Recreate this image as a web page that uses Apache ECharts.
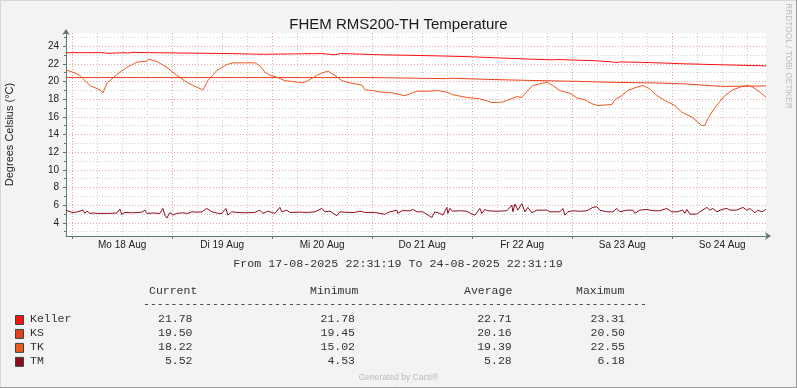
<!DOCTYPE html>
<html><head><meta charset="utf-8">
<script src="https://cdn.jsdelivr.net/npm/echarts@6/dist/echarts.min.js"></script>
<style>html,body{margin:0;padding:0;background:#f3f3f3}#c{width:797px;height:388px}</style>
</head><body><div id="c"></div>
<script>
// ---- data (x = hours since 18-08-2025 00:00) ----
const xStart = -1.478;   // 17-08-2025 22:31:19
const xEnd = 166.522;    // 24-08-2025 22:31:19
const dayLabels = ['Mo 18 Aug','Di 19 Aug','Mi 20 Aug','Do 21 Aug','Fr 22 Aug','Sa 23 Aug','So 24 Aug'];
const dayLabelHours = [12,36,60,84,108,132,156];
const yTickLabels = [4,6,8,10,12,14,16,18,20,22,24];
const seriesNames = ['Keller','KS','TK','TM'];
const seriesColors = ['#FF1010','#E8401C','#EE5A1E','#8F0B1E'];
const statCurrent = ['21.78','19.50','18.22','5.52'];
const statMinimum = ['21.78','19.45','15.02','4.53'];
const statAverage = ['22.71','20.16','19.39','5.28'];
const statMaximum = ['23.31','20.50','22.55','6.18'];

const keller = [[-1.48,23.27],[7.4,23.2],[8.6,23.27],[12.7,23.22],[13.4,23.31],[14.6,23.27],[18.7,23.17],[37.9,23.09],[45.8,23.17],[59.9,23.03],[63.0,23.17],[64.5,23.03],[74.1,22.93],[85.4,22.83],[94.5,22.69],[101.7,22.57],[108.2,22.46],[115.4,22.5],[116.3,22.35],[125.9,22.23],[129.5,22.15],[130.7,22.23],[131.4,22.15],[138.6,22.01],[147.0,21.89],[156.6,21.78],[166.52,21.78]];
const ks = [[-1.48,20.45],[71.7,20.33],[89.9,20.38],[91.1,20.24],[100.0,20.13],[109.6,20.02],[121.6,19.92],[128.6,19.83],[141.0,19.72],[147.5,19.58],[151.8,19.45],[155.9,19.5],[166.52,19.5]];
const tk = [[-1.48,21.3],[-0.07,21.1],[1.85,20.7],[4.25,19.55],[6.65,19.06],[7.37,18.7],[8.33,19.8],[10.73,20.8],[13.13,21.6],[15.53,22.2],[17.93,22.3],[18.29,22.55],[20.33,22.27],[22.73,21.6],[25.13,20.7],[27.53,19.9],[29.93,19.36],[31.37,19.06],[32.57,20.1],[34.73,21.25],[37.13,21.93],[38.57,22.12],[43.85,22.12],[45.05,21.8],[46.25,21.06],[47.45,20.7],[49.13,20.5],[51.05,20.1],[52.97,20.0],[55.37,19.85],[56.57,20.1],[58.73,20.7],[60.17,21.0],[61.37,21.17],[63.05,20.7],[64.73,20.1],[66.65,19.85],[69.53,19.6],[70.25,19.06],[71.93,18.98],[74.33,18.8],[76.73,18.72],[79.85,18.4],[81.05,18.6],[82.73,18.9],[85.13,18.9],[87.77,18.98],[89.93,18.8],[91.37,18.5],[94.73,18.2],[97.85,18.04],[99.77,17.77],[100.73,17.62],[103.13,17.66],[104.33,17.85],[106.73,18.3],[107.93,18.2],[109.13,18.9],[110.57,19.55],[112.25,19.74],[113.93,19.92],[115.37,19.55],[117.05,18.98],[119.45,18.68],[121.13,18.15],[123.05,17.93],[124.73,17.48],[126.17,17.28],[129.53,17.4],[130.25,17.93],[131.93,18.42],[133.37,18.98],[135.05,19.29],[136.97,19.55],[138.65,19.17],[140.33,18.42],[142.25,17.85],[144.65,17.28],[146.33,16.53],[148.73,15.96],[150.17,15.4],[151.13,15.02],[151.85,15.02],[152.57,15.78],[153.77,16.72],[155.45,17.74],[156.65,18.42],[158.57,19.06],[160.73,19.44],[162.17,19.55],[163.37,19.36],[165.05,18.8],[166.52,18.22]];
const tm = [[-1.48,5.43],[-0.07,5.17],[1.0,5.2],[2.57,5.43],[3.05,5.06],[3.53,5.32],[4.25,5.06],[5.2,5.1],[6.17,5.06],[6.65,5.13],[8.5,5.06],[10.73,5.1],[11.45,5.55],[11.93,4.95],[12.65,5.17],[14.5,5.13],[16.73,5.2],[17.45,5.43],[17.93,5.06],[19.5,5.1],[21.05,5.06],[21.77,5.62],[22.25,4.87],[22.73,4.53],[23.45,5.17],[24.17,4.87],[25.13,5.06],[26.5,5.13],[27.77,5.06],[28.73,5.24],[30.0,5.2],[31.13,5.24],[32.33,5.62],[33.53,5.24],[34.25,5.17],[34.97,5.06],[35.93,5.06],[36.89,5.62],[37.37,4.87],[38.33,5.24],[39.53,5.17],[41.5,5.13],[43.85,5.17],[45.05,5.43],[45.77,5.06],[46.97,5.32],[48.65,5.06],[49.85,5.74],[50.33,5.24],[51.53,5.43],[52.25,5.17],[54.5,5.2],[56.57,5.17],[58.25,5.24],[59.93,5.62],[60.65,5.24],[61.85,5.32],[63.53,4.8],[64.25,5.24],[66.0,5.17],[67.85,5.17],[69.05,5.32],[70.25,5.17],[72.65,5.17],[73.85,5.06],[75.05,4.95],[75.77,5.17],[77.93,5.43],[78.17,5.06],[79.13,5.36],[81.05,5.36],[81.77,5.51],[82.73,5.24],[84.17,5.24],[86.33,4.6],[87.05,5.24],[88.25,5.06],[88.97,4.87],[89.93,5.74],[90.17,5.06],[90.65,5.62],[91.37,5.3],[93.0,5.36],[94.73,5.3],[95.93,4.98],[96.65,4.87],[97.85,5.62],[98.33,5.06],[99.05,5.51],[99.77,5.36],[102.0,5.3],[104.33,5.36],[105.53,6.0],[105.77,5.24],[106.25,6.11],[106.97,5.43],[107.93,6.18],[108.65,5.24],[109.37,5.74],[110.33,5.13],[111.53,5.43],[113.93,5.43],[114.65,5.24],[117.05,5.24],[117.77,5.62],[118.25,4.87],[118.97,5.24],[120.17,5.36],[122.0,5.3],[123.53,5.36],[124.97,5.74],[125.93,5.81],[126.65,5.43],[128.33,5.24],[129.77,5.24],[130.73,5.62],[131.45,5.24],[133.13,5.43],[134.57,5.43],[135.05,5.06],[136.25,5.43],[137.93,5.51],[139.37,5.36],[141.05,5.36],[142.73,5.62],[143.93,5.24],[145.13,5.24],[146.57,5.43],[147.05,5.06],[147.53,5.51],[148.25,4.98],[149.93,4.98],[150.65,5.24],[152.33,5.74],[153.05,5.43],[153.77,5.62],[154.73,5.24],[155.93,5.51],[157.13,5.62],[157.85,5.43],[159.53,5.43],[160.97,5.74],[161.93,5.43],[162.65,5.62],[163.85,5.13],[164.57,5.43],[165.53,5.24],[166.52,5.52]];
const seriesData = [keller, ks, tk, tm];

// ---- grid helper values ----
const minorX = [], majorX = [];
for (let h = 0; h <= 166; h += 6) { (h % 24 === 0 ? majorX : minorX).push(h); }
const minorY = [];
for (let v = 3; v <= 25; v += 2) minorY.push(v);

const sans = 'Liberation Sans';
const mono = 'Liberation Mono';
const axisColor = '#5E7A70';
const minorGrid = { show: true, lineStyle: { color: '#cfcfcf', type: [1, 2], width: 1 } };
const majorGrid = { show: true, lineStyle: { color: '#eaa2a2', type: [1, 2], width: 1 } };

// ---- legend / text graphics ----
const g = [];
g.push({ type: 'rect', silent: true, shape: { x: 0.5, y: 0.5, width: 796, height: 387 }, style: { fill: 'none', stroke: '#d8d8d8', lineWidth: 1 } });
g.push({ type: 'line', silent: true, shape: { x1: 0, y1: 387.5, x2: 797, y2: 387.5 }, style: { stroke: '#9a9a9a', lineWidth: 1 } });
g.push({ type: 'line', silent: true, shape: { x1: 796.5, y1: 0, x2: 796.5, y2: 388 }, style: { stroke: '#9a9a9a', lineWidth: 1 } });
g.push({ type: 'text', silent: true, x: 788.5, y: 56, rotation: -Math.PI / 2,
  style: { text: 'RRDTOOL / TOBI OETIKER', font: '8.3px ' + sans, fill: '#bdbdbd', align: 'center', verticalAlign: 'middle' } });
g.push({ type: 'text', silent: true, x: 398, y: 264,
  style: { text: 'From 17-08-2025 22:31:19 To 24-08-2025 22:31:19', font: '11.7px ' + mono, fill: '#333', align: 'center', verticalAlign: 'middle' } });
const headers = [['Current', 149], ['Minimum', 310], ['Average', 464], ['Maximum', 576]];
headers.forEach(h => g.push({ type: 'text', silent: true, x: h[1], y: 291,
  style: { text: h[0], font: '11.5px ' + mono, fill: '#333', align: 'left', verticalAlign: 'middle' } }));
g.push({ type: 'text', silent: true, x: 143, y: 303.5,
  style: { text: '-'.repeat(73), font: '11.5px ' + mono, fill: '#333', align: 'left', verticalAlign: 'middle' } });
const colRight = [192.5, 355, 511.7, 625];
const stats = [statCurrent, statMinimum, statAverage, statMaximum];
seriesNames.forEach((name, i) => {
  const cy = 319 + i * 13.95;
  g.push({ type: 'rect', silent: true, shape: { x: 15.5, y: cy - 3.5, width: 8, height: 9 },
    style: { fill: seriesColors[i], stroke: '#2f4a44', lineWidth: 1 } });
  g.push({ type: 'text', silent: true, x: 30, y: cy,
    style: { text: name, font: '11.5px ' + mono, fill: '#333', align: 'left', verticalAlign: 'middle' } });
  stats.forEach((col, j) => g.push({ type: 'text', silent: true, x: colRight[j], y: cy,
    style: { text: col[i], font: '11.5px ' + mono, fill: '#333', align: 'right', verticalAlign: 'middle' } }));
});
g.push({ type: 'text', silent: true, x: 398.5, y: 377.5,
  style: { text: 'Generated by Cacti®', font: '8.5px ' + sans, fill: '#bbbbbb', align: 'center', verticalAlign: 'middle' } });

const chart = echarts.init(document.getElementById('c'), null, { renderer: 'canvas' });
chart.setOption({
  animation: false,
  backgroundColor: '#f3f3f3',
  title: { text: 'FHEM RMS200-TH Temperature', left: 'center', top: 12,
    textStyle: { fontFamily: sans, fontSize: 15, fontWeight: 'normal', color: '#1a1a1a' } },
  grid: { left: 66, top: 33, width: 700, height: 203, show: true, backgroundColor: '#ffffff', borderWidth: 0,
    containLabel: false, outerBoundsMode: 'none' },
  xAxis: [
    { type: 'value', position: 'bottom', min: xStart, max: xEnd,
      axisLine: { show: true, onZero: false, lineStyle: { color: axisColor, width: 1 }, symbol: ['none', 'arrow'], symbolSize: [6, 6], symbolOffset: [0, 5] },
      axisTick: { show: false, customValues: minorX },
      axisLabel: { show: false },
      splitLine: minorGrid },
    { type: 'value', position: 'bottom', min: xStart, max: xEnd,
      axisLine: { show: false, onZero: false },
      axisTick: { show: true, customValues: majorX, length: 3, lineStyle: { color: axisColor } },
      axisLabel: { show: true, customValues: dayLabelHours, margin: 4, fontFamily: sans, fontSize: 10, color: '#222',
        formatter: v => dayLabels[dayLabelHours.indexOf(Math.round(v))] || '' },
      splitLine: majorGrid }
  ],
  yAxis: [
    { type: 'value', position: 'left', min: 2.5, max: 25.5,
      name: 'Degrees Celsius (°C)', nameLocation: 'middle', nameGap: 51,
      nameTextStyle: { fontFamily: sans, fontSize: 11, color: '#222' },
      axisLine: { show: true, onZero: false, lineStyle: { color: axisColor, width: 1 }, symbol: ['none', 'arrow'], symbolSize: [6, 6], symbolOffset: [0, 4] },
      axisTick: { show: true, customValues: minorY, length: 2, lineStyle: { color: axisColor } },
      axisLabel: { show: false },
      splitLine: minorGrid },
    { type: 'value', position: 'left', min: 2.5, max: 25.5,
      axisLine: { show: false, onZero: false },
      axisTick: { show: true, customValues: yTickLabels, length: 3, lineStyle: { color: axisColor } },
      axisLabel: { show: true, customValues: yTickLabels, margin: 7, fontFamily: sans, fontSize: 10, color: '#222' },
      splitLine: majorGrid }
  ],
  series: seriesData.map((d, i) => ({
    name: seriesNames[i], type: 'line', data: d, xAxisIndex: 0, yAxisIndex: 0,
    showSymbol: false, symbol: 'none', step: i < 2 ? 'end' : false,
    lineStyle: { color: seriesColors[i], width: 1 }, z: 3 + i
  })),
  graphic: g
});
</script></body></html>
